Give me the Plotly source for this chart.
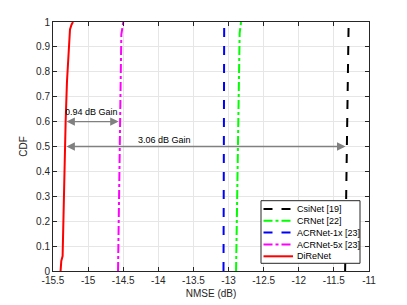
import plotly.graph_objects as go

# --- data ---
csinet_x = [-11.340, -11.318, -11.303, -11.293, -11.290]
csinet_y = [0.0, 0.53, 0.93, 0.98, 1.0]
crnet_x = [-12.893, -12.870, -12.860, -12.856, -12.842, -12.822]
crnet_y = [0.0, 0.5, 0.69, 0.82, 0.955, 1.0]
acr1_x = [-13.072, -13.066, -13.062]
acr1_y = [0.0, 0.5, 1.0]
acr5_x = [-14.574, -14.556, -14.551, -14.527, -14.499]
acr5_y = [0.0, 0.45, 0.6, 0.95, 1.0]
dire_x = [-15.392, -15.382, -15.363, -15.349, -15.339, -15.332, -15.320,
          -15.301, -15.278, -15.268, -15.258, -15.235, -15.215]
dire_y = [0.0, 0.04, 0.06, 0.22, 0.45, 0.5, 0.6, 0.76, 0.89, 0.955, 0.97, 0.99, 1.0]

names = ["CsiNet [19]", "CRNet [22]", "ACRNet-1x [23]", "ACRNet-5x [23]", "DiReNet"]
colors = ["#000000", "#00ff00", "#0000ff", "#ff00ff", "#ff0000"]
dashes = ["dash", "dashdot", "dash", "dashdot", "solid"]

gain1_text = "0.94 dB Gain"
gain1_y = 0.6
gain1_from, gain1_to = -15.33, -14.565
gain2_text = "3.06 dB Gain"
gain2_y = 0.5
gain2_from, gain2_to = -15.33, -11.335

x_ticks = [-15.5, -15, -14.5, -14, -13.5, -13, -12.5, -12, -11.5, -11]
y_ticks = [0, 0.1, 0.2, 0.3, 0.4, 0.5, 0.6, 0.7, 0.8, 0.9, 1]

fig = go.Figure()
series = [(csinet_x, csinet_y), (crnet_x, crnet_y), (acr1_x, acr1_y),
          (acr5_x, acr5_y), (dire_x, dire_y)]
for (xs, ys), n, c, d in zip(series, names, colors, dashes):
    fig.add_trace(go.Scatter(x=xs, y=ys, mode="lines", name=n, showlegend=False,
                             line=dict(color=c, dash=d, width=2)))

arrow_color = "#808080"
for (y0, x0, x1, txt, tx, ty) in [
    (gain1_y, gain1_from, gain1_to, gain1_text, -14.951, 0.639),
    (gain2_y, gain2_from, gain2_to, gain2_text, -13.91, 0.527),
]:
    fig.add_annotation(x=x1, y=y0, ax=x0, ay=y0, xref="x", yref="y",
                       axref="x", ayref="y", text="", showarrow=True,
                       arrowhead=2, startarrowhead=2, arrowside="end+start",
                       arrowsize=1.3, arrowwidth=1.3, arrowcolor=arrow_color,
                       startarrowsize=1.3)
    fig.add_annotation(x=tx, y=ty, xref="x", yref="y", text=txt,
                       showarrow=False, font=dict(size=9, color="#000000"))

# --- manual legend box (paper coords of the plot area, page pixels) ---
PX0, PX1, PY0, PY1 = 53, 369, 22, 271
def px(v):
    return (v - PX0) / (PX1 - PX0)
def py(v):
    return (PY1 - v) / (PY1 - PY0)

fig.add_shape(type="rect", xref="paper", yref="paper",
              x0=px(261), x1=px(360), y0=py(263.3), y1=py(200.7),
              fillcolor="white", line=dict(color="#262626", width=1), layer="above")
row_y = [209, 220.8, 232.6, 244.5, 256.3]
for ry, n, c, d in zip(row_y, names, colors, dashes):
    fig.add_shape(type="line", xref="paper", yref="paper",
                  x0=px(263.5), x1=px(293), y0=py(ry), y1=py(ry),
                  line=dict(color=c, dash=d, width=2), layer="above")
    fig.add_annotation(x=px(294.5), y=py(ry), xref="paper", yref="paper",
                       text=n, showarrow=False, xanchor="left", yanchor="middle",
                       font=dict(size=9, color="#000000"))

axis_common = dict(showline=True, linecolor="#262626", linewidth=1, mirror="ticks",
                   ticks="inside", ticklen=4, tickcolor="#262626",
                   showgrid=True, gridcolor="#e6e6e6", gridwidth=1, zeroline=False,
                   automargin=False,
                   tickfont=dict(size=10, color="#262626"))

# page body has an 8px default margin, so the figure is offset by (8, 8)
fig.update_layout(
    width=399, height=297,
    margin=dict(l=45, r=38, t=14, b=34),
    paper_bgcolor="white", plot_bgcolor="white",
    font=dict(family="Liberation Sans, Arial, sans-serif", size=10, color="#262626"),
    xaxis=dict(range=[-15.5, -11], tickvals=x_ticks,
               ticktext=[f"{v:g}" for v in x_ticks],
               title=dict(text="NMSE (dB)", font=dict(size=10), standoff=4),
               **axis_common),
    yaxis=dict(range=[0, 1], tickvals=y_ticks,
               ticktext=[f"{v:g}" for v in y_ticks],
               title=dict(text="CDF", font=dict(size=10), standoff=6),
               **axis_common),
    showlegend=False,
)

fig.write_html("out.html")
